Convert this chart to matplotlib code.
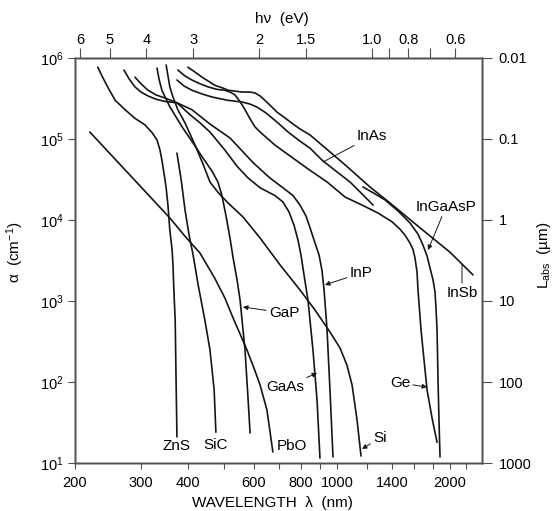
import matplotlib.pyplot as plt
from matplotlib.ticker import NullLocator

plt.rcParams['font.family'] = ['Liberation Sans', 'DejaVu Sans']
plt.rcParams['mathtext.fontset'] = 'custom'
plt.rcParams['mathtext.rm'] = 'Liberation Sans'
plt.rcParams['mathtext.it'] = 'Liberation Sans:italic'

# wavelength (nm) and absorption coefficient alpha (cm^-1)
zns_wl = [230, 236, 245, 256, 272, 289, 307, 321, 331, 337, 341, 345, 350, 354, 358, 363, 365,
          367, 370, 372, 374]
zns_a = [7.7e5, 6.0e5, 4.3e5, 3.0e5, 2.3e5, 1.8e5, 1.5e5, 1.2e5, 9.7e4, 7.3e4, 5.5e4, 3.9e4,
         2.5e4, 1.5e4, 7.5e3, 4.3e3, 2.8e3, 1.37e3, 580, 106, 21]

pbo_wl = [219, 280, 358, 393, 431, 472, 502, 528, 551, 575, 600, 623, 650, 674]
pbo_a = [1.22e5, 3.6e4, 1.06e4, 6.3e3, 3.9e3, 1.9e3, 1.09e3, 616, 392, 248, 149, 92, 45, 13.7]

sic_wl = [374, 384, 393, 403, 413, 426, 444, 458, 470, 475]
sic_a = [6.7e4, 3.1e4, 1.33e4, 6.5e3, 3.7e3, 1.58e3, 580, 250, 80, 24]

gap_wl = [331, 335, 341, 350, 358, 372, 386, 413, 439, 464, 481, 493, 505, 518, 528, 541, 551,
          568, 579, 586]
gap_a = [7.5e5, 5.5e5, 4.0e5, 3.1e5, 2.5e5, 1.87e5, 1.41e5, 8.9e4, 5.8e4, 4.0e4, 2.95e4, 2.0e4,
         1.15e4, 6.0e3, 3.4e3, 1.82e3, 1.03e3, 250, 60, 23.5]

si_wl = [350, 354, 358, 365, 376, 393, 418, 439, 458, 481, 512, 561, 623, 704, 796, 873, 957,
         1018, 1062, 1096, 1130, 1158]
si_a = [8.2e5, 6.0e5, 4.4e5, 3.3e5, 2.3e5, 1.58e5, 8.4e4, 4.9e4, 2.95e4, 2.2e4, 1.62e4, 1.09e4,
        6.0e3, 2.8e3, 1.37e3, 774, 414, 263, 162, 92, 34, 12.2]

gaas_wl = [289, 300, 313, 329, 348, 374, 405, 431, 458, 502, 541, 579, 623, 683, 717, 744, 767,
           786, 801, 816, 836, 862, 884, 900]
gaas_a = [5.8e5, 4.8e5, 4.0e5, 3.5e5, 3.2e5, 2.8e5, 2.0e5, 1.58e5, 1.22e5, 7.3e4, 4.6e4, 3.3e4,
          2.5e4, 2.0e4, 1.67e4, 1.26e4, 8.7e3, 5.7e3, 3.7e3, 2.1e3, 1.03e3, 250, 60, 11.5]

inp_wl = [270, 279, 289, 300, 313, 329, 348, 374, 410, 458, 518, 597, 662, 717, 763, 796, 826,
          847, 873, 895, 911, 923, 940, 957, 975]
inp_a = [7.1e5, 5.5e5, 4.4e5, 3.8e5, 3.4e5, 3.1e5, 2.9e5, 2.8e5, 2.3e5, 1.53e5, 1.03e5, 5.1e4,
         3.3e4, 2.5e4, 2.0e4, 1.53e4, 1.12e4, 8.0e3, 5.2e3, 3.7e3, 2.4e3, 1.37e3, 440, 80, 11.9]

ge_wl = [376, 393, 410, 431, 453, 478, 502, 518, 534, 551, 568, 586, 604, 623, 683, 763, 847,
         940, 1050, 1165, 1285, 1401, 1471, 1517, 1564, 1594, 1613, 1633, 1643, 1674, 1705, 1737,
         1791, 1847]
ge_a = [7.1e5, 6.0e5, 5.35e5, 4.8e5, 4.4e5, 4.1e5, 4.0e5, 3.8e5, 3.5e5, 2.9e5, 2.3e5, 1.77e5,
        1.41e5, 1.22e5, 8.4e4, 5.8e4, 4.1e4, 2.95e4, 1.92e4, 1.53e4, 1.22e4, 9.5e3, 7.7e3, 6.5e3,
        5.2e3, 4.3e3, 3.4e3, 2.3e3, 1.37e3, 440, 187, 80, 36, 18]

ingaasp_wl = [1172, 1262, 1342, 1454, 1564, 1643, 1694, 1737, 1769, 1802, 1824, 1836, 1847, 1858,
              1869, 1881]
ingaasp_a = [2.56e4, 2.1e4, 1.77e4, 1.29e4, 9.2e3, 6.7e3, 4.9e3, 3.6e3, 2.55e3, 1.82e3, 1.29e3,
             774, 440, 106, 34, 11.9]

inas_wl = [374, 391, 410, 436, 464, 512, 558, 586, 611, 646, 691, 740, 796, 847, 911, 987, 1082,
           1165, 1247]
inas_a = [5.35e5, 4.5e5, 4.0e5, 3.6e5, 3.3e5, 3.0e5, 2.86e5, 2.7e5, 2.48e5, 2.1e5, 1.62e5, 1.22e5,
          9.4e4, 7.7e4, 5.5e4, 4.1e4, 2.95e4, 2.1e4, 1.53e4]

insb_wl = [400, 418, 436, 453, 472, 493, 512, 534, 558, 586, 604, 623, 642, 666, 691, 726, 763,
           796, 847, 1050, 1223, 1384, 1664, 2000, 2303]
insb_a = [7.7e5, 6.7e5, 5.8e5, 5.2e5, 4.6e5, 4.3e5, 4.0e5, 3.9e5, 3.8e5, 3.8e5, 3.7e5, 3.4e5,
          3.0e5, 2.55e5, 2.15e5, 1.82e5, 1.53e5, 1.33e5, 1.12e5, 4.8e4, 2.56e4, 1.62e4, 8.0e3,
          4.0e3, 2.1e3]

# axis ticks
wl_ticks = [200, 300, 400, 500, 600, 700, 800, 900, 1000, 1200, 1400, 1600, 1800, 2000, 2200]
wl_labels = ['200', '300', '400', '', '600', '', '800', '', '1000', '', '1400', '', '', '2000', '']
alpha_ticks = [1e1, 1e2, 1e3, 1e4, 1e5, 1e6]
alpha_labels = [r'$\mathregular{10^{%d}}$' % k for k in range(1, 7)]
energy_ticks = [6, 5, 4, 3, 2, 1.5, 1.0, 0.9, 0.8, 0.7, 0.6]
energy_labels = ['6', '5', '4', '3', '2', '1.5', '1.0', '', '0.8', '', '0.6']
labs_ticks = [0.01, 0.1, 1, 10, 100, 1000]
labs_labels = ['0.01', '0.1', '1', '10', '100', '1000']

ink = '#151515'
frame = '#505050'

fig = plt.figure(figsize=(5.53, 5.11), dpi=100)
ax = fig.add_axes([75 / 553, 48 / 511, 407 / 553, 405 / 511])
ax.set_xscale('log')
ax.set_yscale('log')
ax.set_xlim(200, 2434)
ax.set_ylim(10, 1e6)

curves = [(zns_wl, zns_a), (pbo_wl, pbo_a), (sic_wl, sic_a), (gap_wl, gap_a), (si_wl, si_a),
          (gaas_wl, gaas_a), (inp_wl, inp_a), (ge_wl, ge_a), (ingaasp_wl, ingaasp_a),
          (inas_wl, inas_a), (insb_wl, insb_a)]
for wl, a in curves:
    ax.plot(wl, a, color=ink, lw=1.2, solid_joinstyle='round', solid_capstyle='round')

ax.set_xticks(wl_ticks, wl_labels)
ax.set_yticks(alpha_ticks, alpha_labels)
ax.xaxis.set_minor_locator(NullLocator())
ax.yaxis.set_minor_locator(NullLocator())
ax.tick_params(axis='x', direction='out', length=4, width=0.8, pad=5, labelsize=10.5, color=frame)
ax.tick_params(axis='y', direction='out', length=5, width=0.8, pad=3, labelsize=10.5, color=frame)

# top axis: photon energy
top = ax.twiny()
top.set_xscale('log')
top.set_xlim(ax.get_xlim())
top.set_xticks([1239.8 / e for e in energy_ticks], energy_labels)
top.xaxis.set_minor_locator(NullLocator())
top.tick_params(axis='x', direction='out', length=7, width=0.8, pad=1, labelsize=10.5, color=frame)

# right axis: absorption length in micrometres
right = ax.twinx()
right.set_yscale('log')
right.set_ylim(1000, 0.01)
right.set_yticks(labs_ticks, labs_labels)
right.yaxis.set_minor_locator(NullLocator())
right.tick_params(axis='y', direction='out', length=7, width=0.8, pad=5, labelsize=10.5, color=frame)

for a_ in (ax, top, right):
    for s in a_.spines.values():
        s.set_color(frame)
        s.set_linewidth(1.0)

# curve labels
ax.text(372, 16.2, 'ZnS', ha='center', va='center', fontsize=11)
ax.text(475, 16.7, 'SiC', ha='center', va='center', fontsize=11)
ax.text(690, 16.2, 'PbO', ha='left', va='center', fontsize=11)

arrow = dict(arrowstyle='-|>', lw=0.7, color=ink, mutation_scale=7, shrinkA=0, shrinkB=0)
plain = dict(arrowstyle='-', lw=0.7, color=ink, shrinkA=0, shrinkB=0)
ax.annotate('GaP', xy=(561, 844), xytext=(722, 711), ha='center', va='center', fontsize=11, arrowprops=arrow)
ax.annotate('GaAs', xy=(884, 129), xytext=(726, 86.7), ha='center', va='center', fontsize=11, arrowprops=arrow)
ax.annotate('InP', xy=(928, 1580), xytext=(1158, 2220), ha='center', va='center', fontsize=11, arrowprops=arrow)
ax.annotate('Si', xy=(1165, 14.9), xytext=(1301, 20.4), ha='center', va='center', fontsize=11, arrowprops=arrow)
ax.annotate('Ge', xy=(1737, 86.7), xytext=(1471, 97.3), ha='center', va='center', fontsize=11, arrowprops=arrow)
ax.annotate('InSb', xy=(2153, 2860), xytext=(2153, 1260), ha='center', va='center', fontsize=11, arrowprops=plain)
ax.annotate('InGaAsP', xy=(1747, 4260), xytext=(1951, 14500), ha='center', va='center', fontsize=11, arrowprops=arrow)
ax.annotate('InAs', xy=(917, 5.2e4), xytext=(1239, 1.09e5), ha='center', va='center', fontsize=11, arrowprops=plain)

# axis titles
fig.text(272 / 553, 1 - 503 / 511, 'WAVELENGTH  λ  (nm)', ha='center', va='center', fontsize=11)
fig.text(282 / 553, 1 - 19 / 511, 'hν  (eV)', ha='center', va='center', fontsize=11)
fig.text(15 / 553, 1 - 252 / 511, r'α  (cm$^{-1}$)', ha='center', va='center', rotation=90, fontsize=11)
fig.text(544 / 553, 1 - 255 / 511, r'$\mathregular{L_{abs}}$  (µm)', ha='center', va='center',
         rotation=90, fontsize=11)

fig.savefig('out.png', dpi=100)
